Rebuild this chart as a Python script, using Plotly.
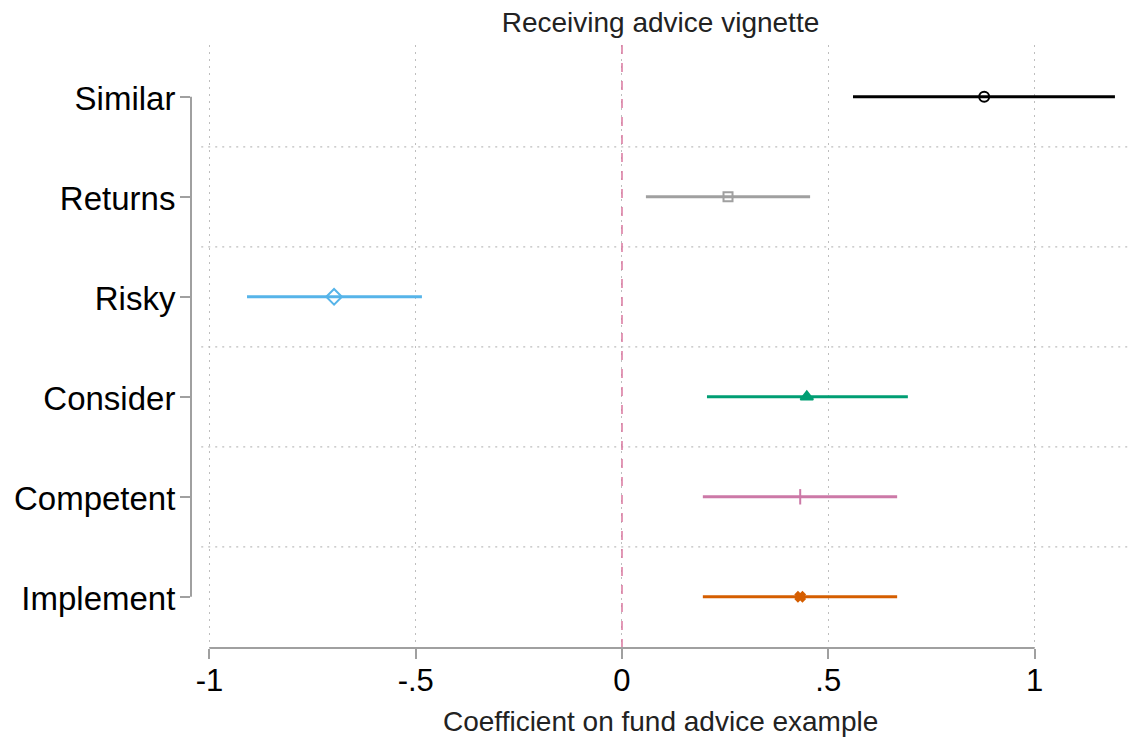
import plotly.graph_objects as go

categories = ["Similar", "Returns", "Risky", "Consider", "Competent", "Implement"]
coef = [0.878, 0.257, -0.698, 0.448, 0.432, 0.432]
ci_low = [0.560, 0.058, -0.909, 0.206, 0.196, 0.196]
ci_high = [1.195, 0.456, -0.485, 0.693, 0.667, 0.667]
xticks = [-1, -0.5, 0, 0.5, 1]
xticklabels = ["-1", "-.5", "0", ".5", "1"]

colors = ["#000000", "#A0A0A0", "#56B4E9", "#009E73", "#CC79A7", "#D55E00"]
symbols = ["circle-open", "square-open", "diamond-open", "triangle-up", "line-ns-open", "x"]
msizes = [10, 9, 12, 11, 11, 8]

ypos = list(range(len(categories), 0, -1))  # Similar at top

fig = go.Figure()
for i, cat in enumerate(categories):
    fig.add_trace(go.Scatter(
        x=[ci_low[i], ci_high[i]], y=[ypos[i], ypos[i]],
        mode="lines", line=dict(color=colors[i], width=3),
        showlegend=False, hoverinfo="skip"))
    fig.add_trace(go.Scatter(
        x=[coef[i]], y=[ypos[i]], mode="markers",
        marker=dict(symbol=symbols[i], size=msizes[i], color=colors[i],
                    line=dict(color=colors[i], width=2)),
        showlegend=False, name=cat))

FONT = "Liberation Sans, Arial, sans-serif"
grid_col = "#BEBEBE"
grid_dash = "2px,5px"
axis_col = "#A0A0A0"

# horizontal separators between categories
for y in ypos[1:]:
    fig.add_shape(type="line", xref="x", yref="y", x0=-1.02, x1=1.228, y0=y + 0.5, y1=y + 0.5,
                  line=dict(color=grid_col, width=1.2, dash=grid_dash), layer="below")
# zero reference line
fig.add_shape(type="line", xref="x", yref="paper", x0=0, x1=0, y0=0, y1=1,
              line=dict(color="#D9779F", width=1.5, dash="dash"), layer="above")
# x axis line only from -1 to 1
fig.add_shape(type="line", xref="x", yref="paper", x0=xticks[0], x1=xticks[-1], y0=0, y1=0,
              line=dict(color=axis_col, width=2))
# y axis bracket from first to last category
fig.add_shape(type="line", xref="paper", yref="y", x0=0, x1=0, y0=min(ypos), y1=max(ypos),
              line=dict(color=axis_col, width=2))

fig.update_layout(
    width=1130, height=737,
    margin=dict(l=191, r=0, t=45, b=89),
    plot_bgcolor="white", paper_bgcolor="white",
    font=dict(family=FONT, color="#000000"),
    title=dict(text="Receiving advice vignette", x=0.5, xref="paper",
               y=1 - 22 / 737, yref="container", xanchor="center", yanchor="middle",
               font=dict(size=28, color="#222222", family=FONT)),
    xaxis=dict(range=[-1.0448, 1.2315], tickvals=xticks, ticktext=xticklabels,
               showline=False, zeroline=False, showgrid=True, gridcolor=grid_col,
               griddash=grid_dash, gridwidth=1.2, ticks="outside", ticklen=10, tickwidth=2,
               tickcolor=axis_col, ticklabelstandoff=-5,
               tickfont=dict(size=31, family=FONT, color="#000000")),
    yaxis=dict(range=[0.488, 6.518], tickvals=ypos, ticktext=categories,
               showline=False, zeroline=False, showgrid=False,
               ticks="outside", ticklen=10, tickwidth=2, tickcolor=axis_col,
               ticklabelstandoff=-2, ticklabelshift=2,
               tickfont=dict(size=33, family=FONT, color="#000000")),
)

fig.add_annotation(text="Coefficient on fund advice example", xref="paper", yref="paper",
                   x=0.5, y=(648 - 721) / 603, xanchor="center", yanchor="middle",
                   showarrow=False, font=dict(size=28, family=FONT, color="#222222"))

fig.write_html("out.html")
